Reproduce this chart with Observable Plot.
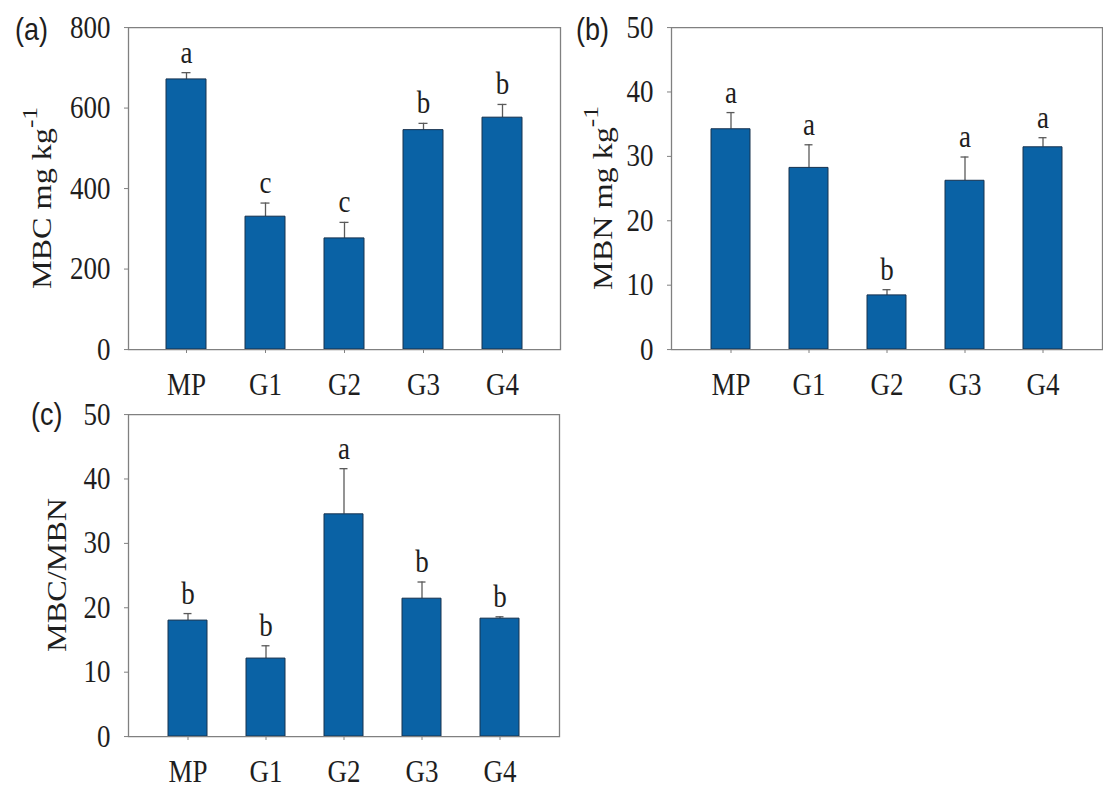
<!DOCTYPE html>
<html><head><meta charset="utf-8">
<script src="https://cdn.jsdelivr.net/npm/d3@7"></script>
<script src="https://cdn.jsdelivr.net/npm/@observablehq/plot@0.6"></script>
<style>
body{margin:0;background:#fff;}
#wrap{position:relative;width:1103px;height:794px;overflow:hidden;background:#fff;}
.panel{position:absolute;}
.panel svg line, .panel svg rect, .panel svg path{vector-effect:non-scaling-stroke;}
</style></head><body><div id="wrap"></div>
<script>
const treatments = ["MP", "G1", "G2", "G3", "G4"];

const mbcMean = [671, 330, 276, 545, 576];
const mbcErr = [17, 34, 40, 17, 33];
const mbcLetters = ["a", "c", "c", "b", "b"];
const mbcTicks = [0, 200, 400, 600, 800];

const mbnMean = [34.2, 28.2, 8.4, 26.2, 31.4];
const mbnErr = [2.6, 3.6, 0.9, 3.7, 1.5];
const mbnLetters = ["a", "a", "b", "a", "a"];
const mbnTicks = [0, 10, 20, 30, 40, 50];

const ratioMean = [18.0, 12.1, 34.5, 21.4, 18.3];
const ratioErr = [1.1, 2.0, 7.1, 2.6, 0.3];
const ratioLetters = ["b", "b", "a", "b", "b"];
const ratioTicks = [0, 10, 20, 30, 40, 50];

const serif = "'Liberation Serif', 'Times New Roman', serif";
const sans = "'Liberation Sans', Arial, sans-serif";
const barColor = "#0a62a5";
const barEdge = "#17324f";
const axisColor = "#808080";
const textColor = "#1e1e1e";
const errColor = "#5a5a5a";
const fs = 27;
const k = 1.15; // vertical stretch of the original figure

function panel(o) {
  const data = treatments.map((t, i) => ({t, v: o.mean[i], top: o.mean[i] + o.err[i], L: o.letters[i]}));
  const svg = Plot.plot({
    width: o.width, height: o.height / k,
    marginLeft: o.ml, marginRight: o.mr, marginTop: o.mt / k, marginBottom: o.mb / k,
    style: {fontFamily: serif, fontSize: fs + "px", color: textColor, background: "transparent", overflow: "visible"},
    x: {domain: treatments, paddingInner: 0.5, paddingOuter: 0.48, label: null},
    y: {domain: [0, o.ticks[o.ticks.length - 1]], label: null},
    marks: [
      Plot.ruleX(data, {x: "t", y1: "v", y2: "top", stroke: errColor, strokeWidth: 1.3}),
      Plot.tickY(data, {x: "t", y: "top", stroke: errColor, strokeWidth: 1.3, insetLeft: 15.5, insetRight: 15.5}),
      Plot.barY(data, {x: "t", y: "v", fill: barColor, stroke: barEdge, strokeWidth: 1}),
      Plot.text(data, {x: "t", y: "top", text: "L", dy: -10 / k, lineAnchor: "bottom", fontSize: fs, fill: textColor}),
      Plot.axisY({ticks: o.ticks, tickSize: 4, tickPadding: 14, stroke: axisColor, fill: textColor, fontSize: fs, label: null}),
      Plot.axisX({tickSize: 4 / k, tickPadding: 17, stroke: axisColor, fill: textColor, fontSize: fs, label: null}),
      Plot.frame({stroke: axisColor, strokeWidth: 1.3})
    ]
  });
  const s = d3.select(svg);
  // y-axis title
  const t = s.append("text")
    .attr("transform", `translate(${o.lx},${o.ly / k}) rotate(-90)`)
    .attr("text-anchor", "middle")
    .attr("dominant-baseline", "central")
    .attr("font-family", serif).attr("font-size", 28).attr("fill", textColor);
  t.append("tspan").text(o.label);
  if (o.sup) t.append("tspan").attr("dy", "-0.55em").attr("font-size", 22).text(o.sup);
  // panel tag
  s.append("text").attr("x", o.tx).attr("y", o.ty / k)
    .attr("text-anchor", "start")
    .attr("dominant-baseline", "central")
    .attr("font-family", sans).attr("font-size", 27).attr("fill", textColor)
    .text(o.tag);
  svg.setAttribute("preserveAspectRatio", "none");
  svg.setAttribute("height", o.height);
  svg.style.height = o.height + "px";
  svg.style.width = o.width + "px";
  const div = document.createElement("div");
  div.className = "panel";
  div.style.left = o.left + "px";
  div.style.top = o.top + "px";
  div.appendChild(svg);
  document.getElementById("wrap").appendChild(div);
}

panel({mean: mbcMean, err: mbcErr, letters: mbcLetters, ticks: mbcTicks,
  left: 0, top: 0, width: 575, height: 400, ml: 128, mr: 15, mt: 27, mb: 51,
  label: "MBC mg kg", sup: "-1", lx: 42, ly: 198, tag: "(a)", tx: 15, ty: 29});

panel({mean: mbnMean, err: mbnErr, letters: mbnLetters, ticks: mbnTicks,
  left: 545, top: 0, width: 558, height: 400, ml: 126, mr: 1, mt: 27, mb: 51,
  label: "MBN mg kg", sup: "-1", lx: 58, ly: 198, tag: "(b)", tx: 31, ty: 29});

panel({mean: ratioMean, err: ratioErr, letters: ratioLetters, ticks: ratioTicks,
  left: 0, top: 387, width: 575, height: 407, ml: 128, mr: 16, mt: 27, mb: 58,
  label: "MBC/MBN", sup: null, lx: 57, ly: 188, tag: "(c)", tx: 31, ty: 27});
</script>
</body></html>
